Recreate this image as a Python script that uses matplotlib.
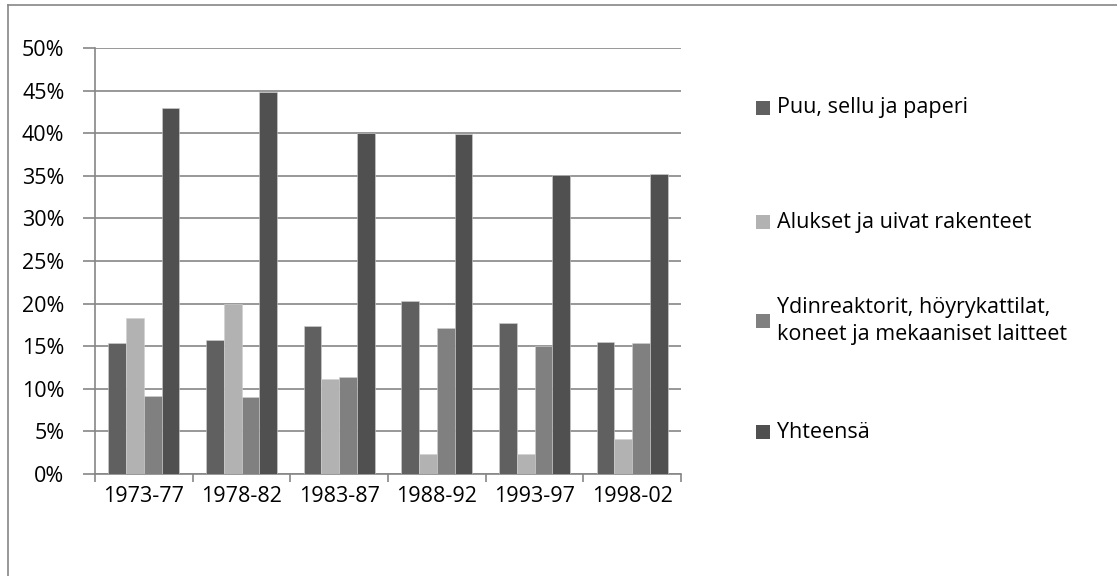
import matplotlib
matplotlib.use("Agg")
import matplotlib.pyplot as plt
import numpy as np
from matplotlib.patches import Rectangle
from matplotlib.lines import Line2D

periods = ["1973-77", "1978-82", "1983-87", "1988-92", "1993-97", "1998-02"]
puu = [15.4, 15.7, 17.4, 20.3, 17.7, 15.5]
alukset = [18.3, 20.0, 11.2, 2.4, 2.4, 4.1]
ydin = [9.2, 9.0, 11.4, 17.1, 15.0, 15.4]
yhteensa = [43.0, 44.8, 40.0, 39.9, 35.1, 35.25]
series_names = ["Puu, sellu ja paperi", "Alukset ja uivat rakenteet",
                "Ydinreaktorit, höyrykattilat,\nkoneet ja mekaaniset laitteet", "Yhteensä"]
series_vals = [puu, alukset, ydin, yhteensa]
colors = ["#606060", "#b2b2b2", "#808080", "#505050"]
yticks = [0, 5, 10, 15, 20, 25, 30, 35, 40, 45, 50]

plt.rcParams['font.family'] = ['Open Sans', 'DejaVu Sans']
FS = 15.5
W, H = 1117, 576
fig = plt.figure(figsize=(W/100, H/100), dpi=100)

ax = fig.add_axes([95/W, 1-474/H, 586/W, 426/H])
x = np.arange(len(periods))
bw = 0.181
n = len(series_vals)
for i, (vals, c) in enumerate(zip(series_vals, colors)):
    ax.bar(x + (i - (n-1)/2)*bw, vals, width=bw, color=c, edgecolor="#d0d0d0",
           linewidth=0.4, zorder=3)

ax.set_xlim(-0.5, len(periods)-0.5)
ax.set_ylim(0, 50)
ax.set_yticks(yticks)
ax.set_yticklabels([f"{v}%" for v in yticks], fontsize=FS, color="#000000")
ax.yaxis.grid(True, color="#868686", linewidth=1.2, zorder=0)
ax.set_xticks(np.arange(len(periods)+1) - 0.5)
ax.set_xticklabels([])
ax.set_xticks(x, minor=True)
ax.set_xticklabels(periods, minor=True, fontsize=FS)
ax.tick_params(axis='x', which='minor', length=0, pad=9)
ax.tick_params(axis='x', which='major', length=6, color="#868686", width=1.2)
ax.tick_params(axis='y', length=9, color="#868686", width=1.2, pad=13)
for s in ["top", "right"]:
    ax.spines[s].set_visible(False)
for s in ["left", "bottom"]:
    ax.spines[s].set_color("#868686")
    ax.spines[s].set_linewidth(1.2)

# legend drawn manually
leg_y = [108, 222, 321, 432]
for name, c, yy in zip(series_names, colors, leg_y):
    fig.patches.append(Rectangle((756/W, 1-(yy+7)/H), 14/W, 14/H, transform=fig.transFigure,
                                 facecolor=c, edgecolor="none"))
    fig.text(777/W, 1-yy/H, name, fontsize=FS, va="center", ha="left", linespacing=1.4)

# outer border
fig.add_artist(Line2D([8/W, 8/W], [0, 1-5/H], transform=fig.transFigure, color="#868686", lw=1.2))
fig.add_artist(Line2D([8/W, 1], [1-5/H, 1-5/H], transform=fig.transFigure, color="#868686", lw=1.2))

fig.savefig("out.png", dpi=100)
